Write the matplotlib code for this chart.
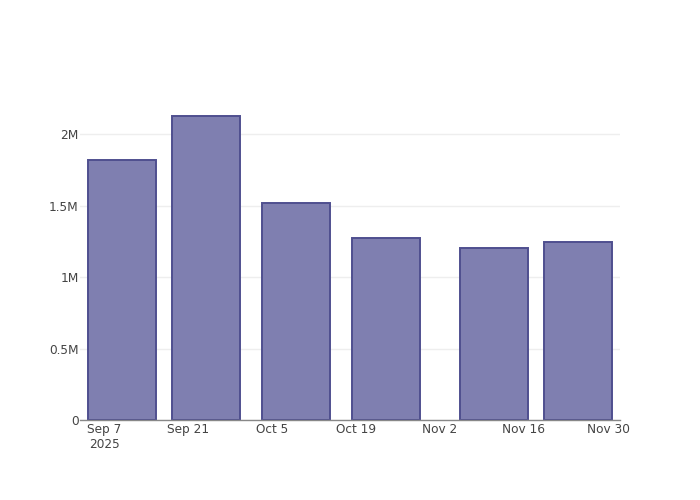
import matplotlib
matplotlib.use("Agg")
import matplotlib.pyplot as plt
import matplotlib.dates as mdates
import numpy as np
import datetime as dt

dates = ["2025-09-10", "2025-09-24", "2025-10-09", "2025-10-24", "2025-11-11", "2025-11-25"]
values = [1.818e6, 2.126e6, 1.517e6, 1.273e6, 1.203e6, 1.245e6]
xtick_dates = ["2025-09-07", "2025-09-21", "2025-10-05", "2025-10-19", "2025-11-02", "2025-11-16", "2025-11-30"]
xtick_labels = ["Sep 7\n2025", "Sep 21", "Oct 5", "Oct 19", "Nov 2", "Nov 16", "Nov 30"]
ytick_vals = [0, 0.5e6, 1e6, 1.5e6, 2e6]
ytick_labels = ["0", "0.5M", "1M", "1.5M", "2M"]

x = [mdates.date2num(dt.datetime.fromisoformat(d)) for d in dates]
xt = [mdates.date2num(dt.datetime.fromisoformat(d)) for d in xtick_dates]

fig = plt.figure(figsize=(7, 5), dpi=100)
ax = fig.add_axes([80/700, 80/500, 540/700, 320/500])

width = 14 * 0.8
ax.bar(x, values, width=width, color=(0.498, 0.498, 0.690), edgecolor=(0.31, 0.31, 0.56),
       linewidth=1.4, zorder=3)

ax.set_xlim(xt[0] - 4, xt[0] + 86)
ax.set_ylim(0, 2.238e6)
ax.set_xticks(xt)
ax.set_xticklabels(xtick_labels)
ax.set_yticks(ytick_vals)
ax.set_yticklabels(ytick_labels)
ax.grid(axis="y", color="#eeeeee", linewidth=1, zorder=0)
for s in ["top", "right", "left"]:
    ax.spines[s].set_visible(False)
ax.spines["bottom"].set_color("#888888")
ax.spines["bottom"].set_linewidth(1)
ax.spines["bottom"].set_zorder(4)
ax.tick_params(axis="both", length=0, labelsize=8.7, colors="#444444")
ax.tick_params(axis="x", pad=2)
ax.tick_params(axis="y", pad=1)
for lbl in ax.get_xticklabels():
    lbl.set_linespacing(1.2)

fig.savefig("out.png", dpi=100)
